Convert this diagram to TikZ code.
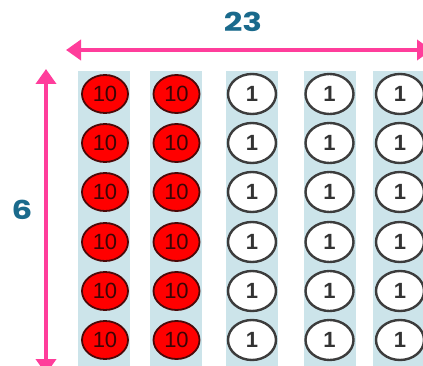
\documentclass[tikz,border=0pt]{standalone}
\usepackage{fontspec}
\setmainfont{Liberation Sans}
\newfontfamily\labelfont{Poppins}
\usetikzlibrary{arrows.meta,shapes.geometric}
\definecolor{dimpink}{HTML}{FF3D9B}
\definecolor{stripblue}{HTML}{CCE4EA}
\definecolor{tenred}{HTML}{FF0000}
\definecolor{tenedge}{HTML}{4A0808}
\definecolor{tentext}{HTML}{3A0505}
\definecolor{oneedge}{HTML}{3C3C3C}
\definecolor{dimtext}{HTML}{1A6A8C}
\tikzset{
  x=1pt, y=-1pt,
  strip/.style={fill=stripblue, draw=none},
  tendisc/.style={ellipse, fill=tenred, draw=tenedge, line width=1.8pt,
    minimum width=46pt, minimum height=38pt, inner sep=0pt,
    text=tentext, font=\fontsize{22}{22}\selectfont},
  onedisc/.style={ellipse, fill=white, draw=oneedge, line width=2.4pt,
    minimum width=48pt, minimum height=40pt, inner sep=0pt,
    text=black!80, font=\fontsize{22}{22}\selectfont\bfseries},
  dimarrow/.style={draw=dimpink, line width=4pt,
    {Triangle[width=20pt,length=15pt]}-{Triangle[width=20pt,length=15pt]}},
  dimlabel/.style={text=dimtext, font=\labelfont\fontsize{26}{26}\selectfont\bfseries}
}
\begin{document}
\begin{tikzpicture}
  \useasboundingbox (0,0) rectangle (423,366);
  \clip (0,0) rectangle (423,366);

  % background columns
  \foreach \cx in {104,175.5,252,329.5,399}
    \fill[strip] (\cx-26,71) rectangle (\cx+26,370);

  % counters: two columns of tens, three columns of ones
  \foreach \r/\cy in {1/94,2/143,3/192,4/242,5/291,6/340} {
    \node[tendisc] (t1\r) at (105,\cy) {10};
    \node[tendisc] (t2\r) at (176.5,\cy) {10};
    \node[onedisc] (o1\r) at (252,\cy) {1};
    \node[onedisc] (o2\r) at (329.5,\cy) {1};
    \node[onedisc] (o3\r) at (400,\cy) {1};
  }

  % dimension arrows
  \coordinate (wl) at (66,50);
  \coordinate (wr) at (432,50);
  \draw[dimarrow] (wl) -- (wr);
  \node[dimlabel] (wlabel) at (243,22) {\scalebox{1.25}[1]{23}};

  \coordinate (ht) at (46,69);
  \coordinate (hb) at (46,374);
  \draw[dimarrow] (ht) -- (hb);
  \node[dimlabel] (hlabel) at (22,210) {\scalebox{1.25}[1]{6}};
\end{tikzpicture}
\end{document}
